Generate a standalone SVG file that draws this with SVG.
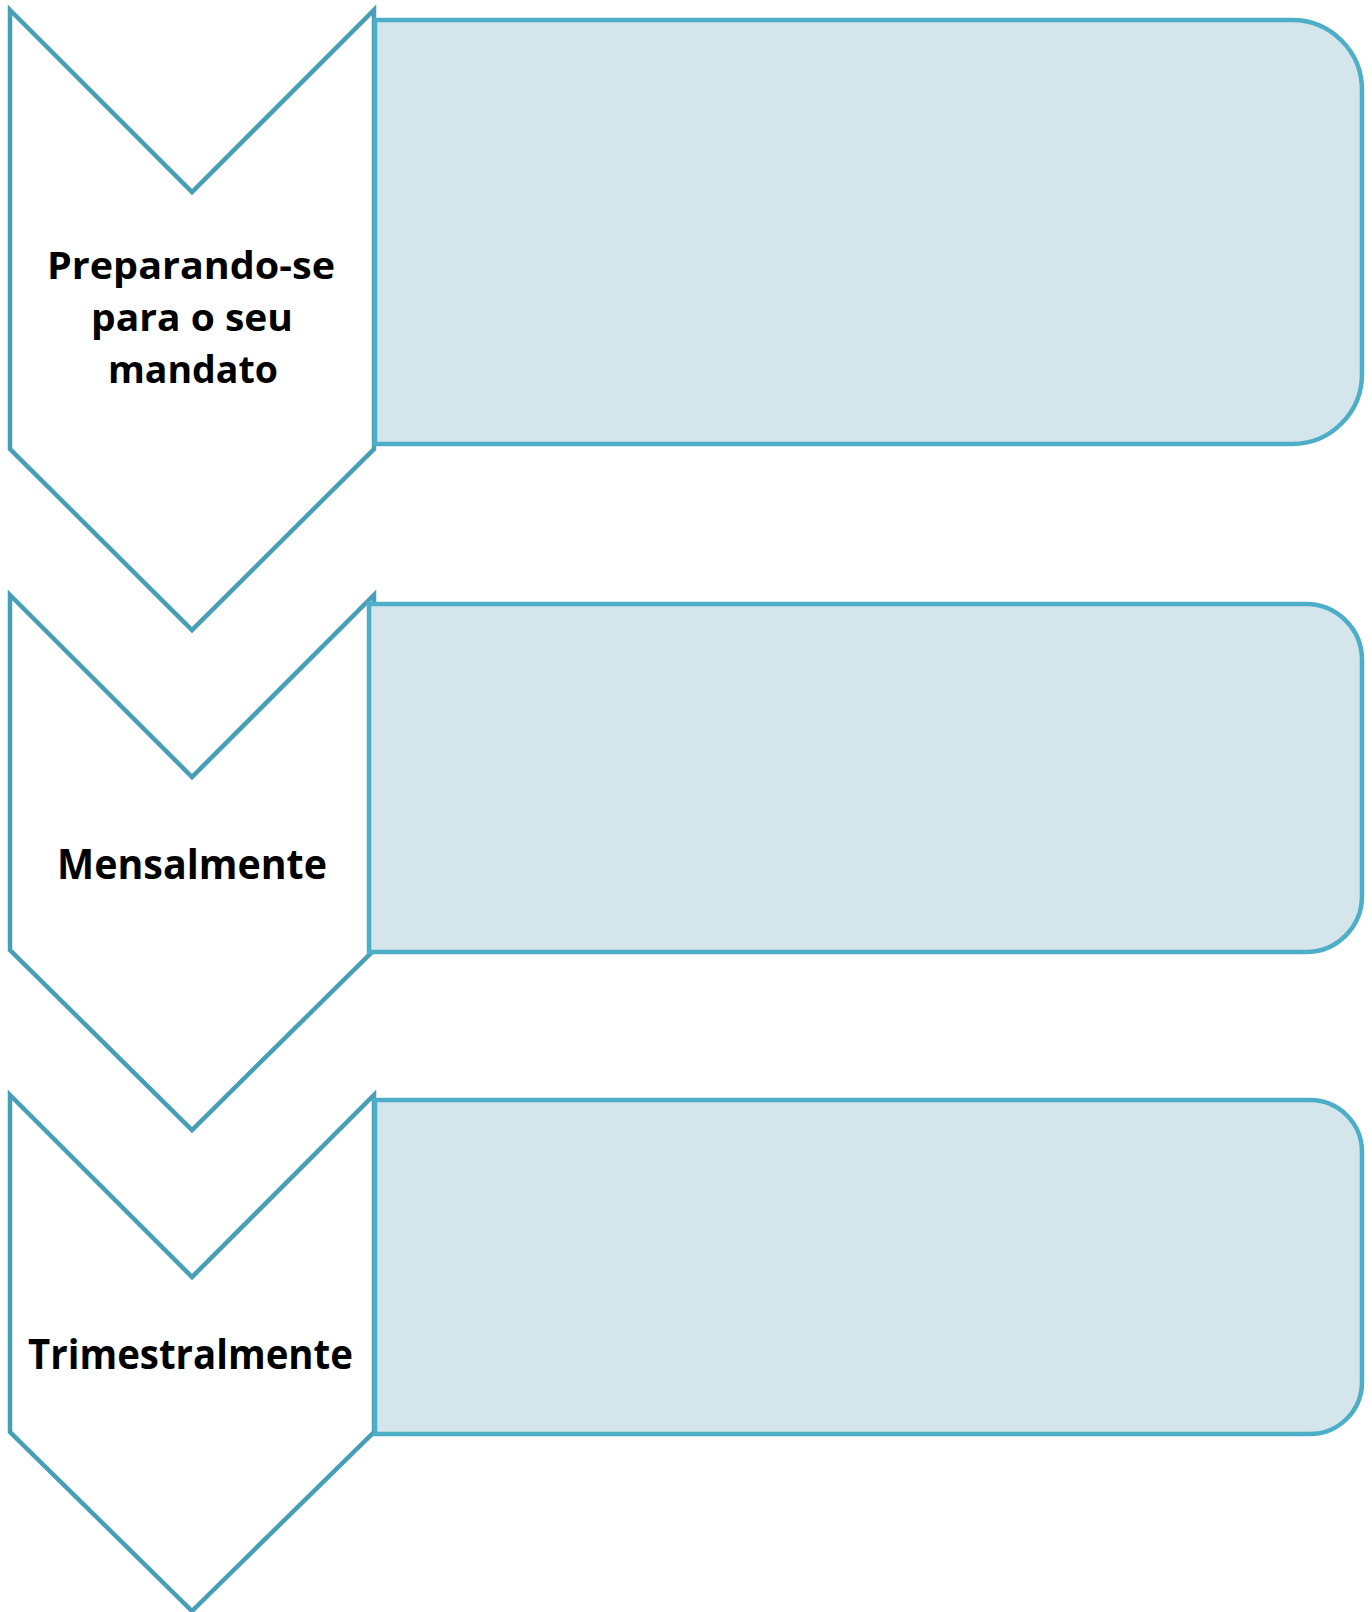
<svg xmlns="http://www.w3.org/2000/svg" width="1372" height="1612" viewBox="0 0 1372 1612">
<style>
.chev{fill:#FFFFFF;stroke:#479FB7;stroke-width:4.5;stroke-linejoin:miter;stroke-miterlimit:10}
.box{fill:#D4E5EC;stroke:#4DAEC7;stroke-width:4.5}
.lbl{font-family:"Open Sans","Noto Sans","Liberation Sans",sans-serif;font-weight:bold;fill:#000000;text-anchor:middle}
</style>
<rect x="0" y="0" width="1372" height="1612" fill="#FFFFFF"/>
<g id="step1">
<path class="chev" d="M10,10 L192,192 L374,10 L374,449 L192,630 L10,449 Z"/>
<path class="box" d="M375,20 H1292 A70,70 0 0 1 1362,90 V374 A70,70 0 0 1 1292,444 H375 Z"/>
<text class="lbl" font-size="37"><tspan x="191" y="279" textLength="288" lengthAdjust="spacingAndGlyphs">Preparando-se</tspan><tspan x="192" y="331" textLength="202" lengthAdjust="spacingAndGlyphs">para o seu</tspan><tspan x="193" y="383" textLength="170" lengthAdjust="spacingAndGlyphs">mandato</tspan></text>
</g>
<g id="step2">
<path class="chev" d="M10,595 L192,777 L374,595 L374,950 L192,1130 L10,950 Z"/>
<path class="box" d="M369,604 H1306 A56,56 0 0 1 1362,660 V896 A56,56 0 0 1 1306,952 H369 Z"/>
<text class="lbl" font-size="41" x="192" y="879" textLength="270" lengthAdjust="spacingAndGlyphs">Mensalmente</text>
</g>
<g id="step3">
<path class="chev" d="M10,1095 L192,1277 L374,1095 L374,1432 L192,1611 L10,1432 Z"/>
<path class="box" d="M375,1100 H1310 A52,52 0 0 1 1362,1152 V1382 A52,52 0 0 1 1310,1434 H375 Z"/>
<text class="lbl" font-size="41" x="190.5" y="1369" textLength="325" lengthAdjust="spacingAndGlyphs">Trimestralmente</text>
</g>
<g id="connectors"></g>
</svg>
